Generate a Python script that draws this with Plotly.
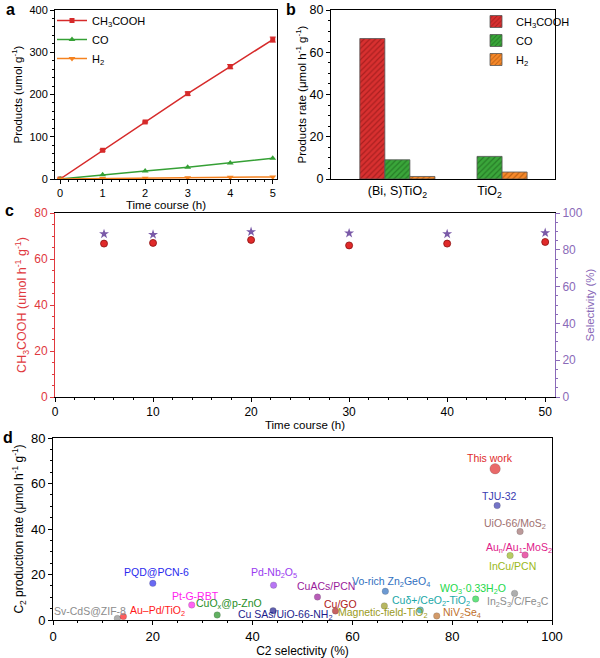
import plotly.graph_objects as go

# ---------------- data ----------------
# panel a
time_a = [0, 1, 2, 3, 4, 5]
ch3cooh_a = [0, 68, 135, 202, 266, 330]
ch3cooh_err = [0, 2, 2, 4, 5, 6]
co_a = [0, 10, 19, 28, 38, 49]
h2_a = [0, 1, 2, 3, 4, 5]

# panel b
cats_b = ["(Bi, S)TiO<sub>2</sub>", "TiO<sub>2</sub>"]
ch3cooh_b = [66.5, None]
co_b = [9.1, 10.7]
h2_b = [1.2, 3.3]

# panel c
time_c = [5, 10, 20, 30, 40, 50]
ch3cooh_c = [66.7, 67.0, 68.3, 65.9, 66.7, 67.4]
select_c = [88.6, 88.3, 89.8, 89.0, 88.6, 89.2]

# panel d
names_d = ["Sv-CdS@ZIF-8", "Au–Pd/TiO<sub>2</sub>", "PQD@PCN-6", "Pt-G-RBT",
           "CuO<sub>x</sub>@p-ZnO", "Pd-Nb<sub>2</sub>O<sub>5</sub>",
           "Cu SAs/UiO-66-NH<sub>2</sub>", "CuACs/PCN", "Cu/GO",
           "Vo-rich Zn<sub>2</sub>GeO<sub>4</sub>", "Magnetic-field-TiO<sub>2</sub>",
           "Cuδ+/CeO<sub>2</sub>-TiO<sub>2</sub>", "NiV<sub>2</sub>Se<sub>4</sub>",
           "WO<sub>3</sub>·0.33H<sub>2</sub>O", "In<sub>2</sub>S<sub>3</sub>/C/Fe<sub>3</sub>C",
           "This work", "TJU-32", "UiO-66/MoS<sub>2</sub>",
           "Au<sub>n</sub>/Au<sub>1</sub>-MoS<sub>2</sub>", "InCu/PCN"]
sel_d = [12.9, 14.1, 20.0, 27.8, 32.9, 44.2, 44.1, 53.0, 56.6, 66.6, 66.4,
         73.6, 76.9, 84.7, 92.5, 88.6, 89.0, 93.6, 94.6, 91.6]
rate_d = [0.7, 1.5, 16.1, 6.6, 2.2, 15.3, 4.1, 10.1, 4.0, 12.6, 6.2,
          4.4, 1.8, 9.2, 11.7, 66.5, 50.3, 38.9, 28.6, 28.3]

# ---------------- styles ----------------
colors_d = ["#8c8c8c", "#ff1a1a", "#2a2aee", "#ff22ee", "#1f8f1f", "#9a3cf0",
            "#1c1c8c", "#9a1a9a", "#b02020", "#2f6fc0", "#9a9a20",
            "#20a8a8", "#c0702a", "#22d84a", "#8c8c8c", "#e02a2a", "#3a3ab0",
            "#a07070", "#e0208a", "#9ab820"]
# label offsets in px (dx right, dy up)
lab_off = [(-27, 7), (34, 6), (4, 11), (4, 9), (12, 11), (0, 12), (12, -4),
           (9, 11), (5, 7), (6, 9), (-2, -7), (11, 9), (25, 3), (-3, 10),
           (3, -9), (-5, 11), (2, 10), (-5, 8), (-6, 7), (2, -10)]

W, H = 600, 658
def X(p):
    return p / W
def Y(p):
    return 1 - p / H

RED = "#d62a2a"
GREEN = "#35a035"
ORANGE = "#f5821f"
CRED = "#e0393e"
PURP = "#8a6ab8"
FONT = "Liberation Sans, Arial, sans-serif"

fig = go.Figure()

# ---- panel a ----
fig.add_trace(go.Scatter(x=time_a, y=ch3cooh_a, mode="lines+markers", name="CH<sub>3</sub>COOH",
                         line=dict(color=RED, width=1.5), marker=dict(symbol="square", size=5, color=RED),
                         error_y=dict(type="data", array=ch3cooh_err, color=RED, thickness=1, width=3),
                         xaxis="x", yaxis="y", legend="legend"))
fig.add_trace(go.Scatter(x=time_a, y=co_a, mode="lines+markers", name="CO",
                         line=dict(color=GREEN, width=1.5), marker=dict(symbol="triangle-up", size=6, color=GREEN),
                         xaxis="x", yaxis="y", legend="legend"))
fig.add_trace(go.Scatter(x=time_a, y=h2_a, mode="lines+markers", name="H<sub>2</sub>",
                         line=dict(color=ORANGE, width=1.5), marker=dict(symbol="triangle-down", size=6, color=ORANGE),
                         xaxis="x", yaxis="y", legend="legend"))

# ---- panel b ----
for vals, nm, c, fg in [(ch3cooh_b, "CH<sub>3</sub>COOH", "#d83030", "#7a1010"),
                        (co_b, "CO", "#3aa63a", "#145214"),
                        (h2_b, "H<sub>2</sub>", "#f7892a", "#8a3f00")]:
    fig.add_trace(go.Bar(x=cats_b, y=vals, name=nm, xaxis="x2", yaxis="y2", legend="legend2",
                         marker=dict(color=c, line=dict(color="#555555", width=0.8),
                                     pattern=dict(shape="/", fgcolor=fg, bgcolor=c, size=4, solidity=0.3))))

# ---- panel c ----
fig.add_trace(go.Scatter(x=time_c, y=ch3cooh_c, mode="markers", showlegend=False,
                         marker=dict(symbol="circle", size=7, color="#e02a2a", line=dict(color="#8a0f0f", width=0.8)),
                         xaxis="x3", yaxis="y3"))
fig.add_trace(go.Scatter(x=time_c, y=select_c, mode="markers", showlegend=False,
                         marker=dict(symbol="star", size=7.5, color="#7a5aa8", line=dict(width=0)),
                         xaxis="x3", yaxis="y4"))

# ---- panel d ----
sizes_d = [10.5 if n == "This work" else 6.5 for n in names_d]
fig.add_trace(go.Scatter(x=sel_d, y=rate_d, mode="markers", showlegend=False,
                         marker=dict(size=sizes_d, color=colors_d, line=dict(color="rgba(0,0,0,0.35)", width=0.6)),
                         xaxis="x4", yaxis="y5"))

ann = []
for n, sx, ry, c, (dx, dy) in zip(names_d, sel_d, rate_d, colors_d, lab_off):
    ann.append(dict(x=sx, y=ry, xref="x4", yref="y5", text=n, showarrow=False,
                    xshift=dx, yshift=dy, font=dict(size=10.5, color=c, family=FONT)))

# panel letters
for t, px, py in [("a", 10, 9), ("b", 291, 9), ("c", 9, 210), ("d", 8, 437)]:
    ann.append(dict(x=X(px), y=Y(py), xref="paper", yref="paper", text="<b>%s</b>" % t,
                    showarrow=False, xanchor="center", yanchor="middle",
                    font=dict(size=16, color="black", family=FONT)))

ax_common = dict(showline=True, linecolor="black", linewidth=1, ticks="outside", ticklen=4,
                 tickcolor="black", showgrid=False, zeroline=False, automargin=False,
                 minor=dict(ticks="outside", ticklen=2, tickcolor="black"))

fig.update_layout(
    width=W, height=H, margin=dict(l=0, r=0, t=0, b=0, autoexpand=False),
    paper_bgcolor="white", plot_bgcolor="white",
    font=dict(family=FONT, color="black", size=11),
    barmode="group", bargap=0.185, bargroupgap=0,
    annotations=ann,
    xaxis=dict(domain=[X(55), X(277)], anchor="y", range=[-0.12, 5.1], dtick=1, mirror=True,
               tickfont=dict(size=11), title=dict(text="Time course (h)", font=dict(size=11.5), standoff=2),
               **ax_common),
    yaxis=dict(domain=[Y(179), Y(10)], anchor="x", range=[0, 400], dtick=100, mirror=True,
               tickfont=dict(size=11), title=dict(text="Products (umol g<sup>-1</sup>)", font=dict(size=11.5), standoff=4),
               **ax_common),
    xaxis2=dict(domain=[X(331), X(555)], anchor="y2", range=[-0.72, 1.71], mirror=True,
                showline=True, linecolor="black", ticks="", showgrid=False, zeroline=False, automargin=False,
                tickfont=dict(size=12.5)),
    yaxis2=dict(domain=[Y(179), Y(10)], anchor="x2", range=[0, 80], dtick=20, mirror=True,
                tickfont=dict(size=12.5),
                title=dict(text="Products rate (μmol h<sup>-1</sup> g<sup>-1</sup>)", font=dict(size=11.5), standoff=0),
                **ax_common),
    xaxis3=dict(domain=[X(55), X(555)], anchor="y3", range=[0, 51], dtick=10, mirror=True,
                tickfont=dict(size=12), title=dict(text="Time course (h)", font=dict(size=11.5), standoff=2),
                **ax_common),
    yaxis3=dict(domain=[Y(397), Y(213)], anchor="x3", range=[0, 80], dtick=20, automargin=False,
                showline=True, linecolor=CRED, linewidth=1, ticks="outside", ticklen=4, tickcolor=CRED,
                minor=dict(ticks="outside", ticklen=2, tickcolor=CRED), showgrid=False, zeroline=False,
                tickfont=dict(size=12, color=CRED),
                title=dict(text="CH<sub>3</sub>COOH (umol h<sup>-1</sup> g<sup>-1</sup>)", font=dict(size=12.5, color=CRED), standoff=4)),
    yaxis4=dict(domain=[Y(397), Y(213)], anchor="x3", overlaying="y3", side="right", range=[0, 100], dtick=20,
                automargin=False,
                showline=True, linecolor=PURP, linewidth=1, ticks="outside", ticklen=4, tickcolor=PURP,
                minor=dict(ticks="outside", ticklen=2, tickcolor=PURP), showgrid=False, zeroline=False,
                tickfont=dict(size=12, color=PURP),
                title=dict(text="Selectivity (%)", font=dict(size=11.5, color=PURP), standoff=4)),
    xaxis4=dict(domain=[X(53), X(552)], anchor="y5", range=[0, 100], dtick=20, mirror=True,
                tickfont=dict(size=13), title=dict(text="C2 selectivity (%)", font=dict(size=12), standoff=2),
                **ax_common),
    yaxis5=dict(domain=[Y(620), Y(438)], anchor="x4", range=[0, 80], dtick=20, mirror=True,
                tickfont=dict(size=13),
                title=dict(text="C<sub>2</sub> production rate (μmol h<sup>-1</sup> g<sup>-1</sup>)", font=dict(size=12), standoff=4),
                **ax_common),
    legend=dict(x=X(52), y=Y(6), xanchor="left", yanchor="top", bgcolor="rgba(0,0,0,0)",
                font=dict(size=11), tracegroupgap=0, itemwidth=30),
    legend2=dict(x=X(476), y=Y(7), xanchor="left", yanchor="top", bgcolor="rgba(0,0,0,0)",
                 font=dict(size=11), tracegroupgap=0, itemwidth=30),
)

fig.write_html("out.html")
